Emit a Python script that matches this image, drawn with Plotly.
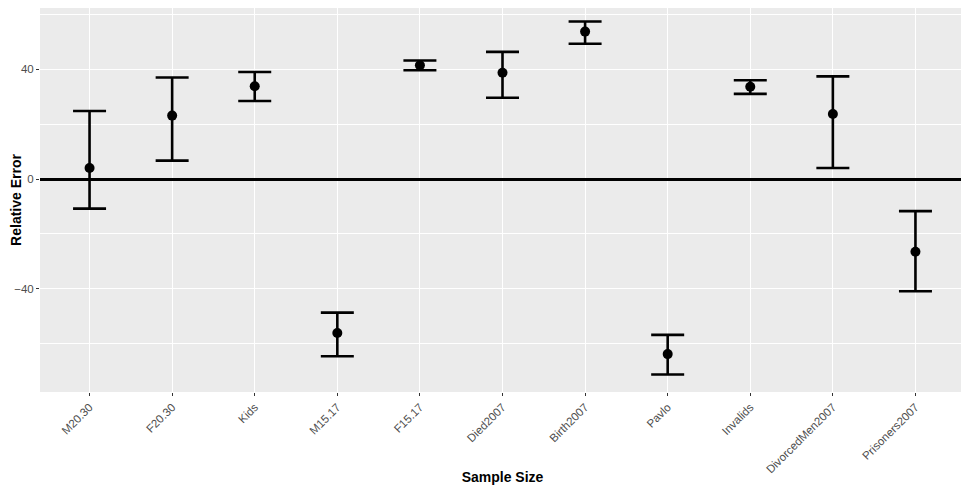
import plotly.graph_objects as go

categories = ["M20.30", "F20.30", "Kids", "M15.17", "F15.17", "Died2007",
              "Birth2007", "Pavlo", "Invalids", "DivorcedMen2007", "Prisoners2007"]
estimate = [4.0, 23.1, 33.8, -56.1, 41.4, 38.7, 53.7, -63.8, 33.6, 23.7, -26.5]
upper = [24.8, 37.0, 39.0, -48.7, 43.2, 46.3, 57.4, -56.8, 36.0, 37.4, -11.7]
lower = [-10.8, 6.7, 28.4, -64.6, 39.6, 29.6, 49.3, -71.2, 31.0, 4.0, -40.9]

err_plus = [u - e for u, e in zip(upper, estimate)]
err_minus = [e - l for e, l in zip(estimate, lower)]

fig = go.Figure()
fig.add_trace(go.Scatter(
    x=categories,
    y=estimate,
    mode='markers',
    marker=dict(color='black', size=10),
    error_y=dict(type='data', symmetric=False, array=err_plus, arrayminus=err_minus,
                 color='black', thickness=2.6, width=16.5),
    showlegend=False
))

# page body adds an 8px offset, so the figure is a bit smaller than the window
fig.update_layout(
    width=961, height=477,
    margin=dict(l=32, r=4, t=0, b=93),
    paper_bgcolor='white',
    plot_bgcolor='#EBEBEB',
    font=dict(family='Liberation Sans, Arial, sans-serif', color='#4D4D4D', size=11),
    xaxis=dict(
        type='category',
        range=[-0.6, 10.6],
        tickangle=-45,
        showgrid=True, gridcolor='white', gridwidth=1.2,
        ticks='outside', ticklen=3, tickcolor='#333333',
        tickfont=dict(size=11.5, color='#4D4D4D'),
        title=dict(text='<b>Sample Size</b>', font=dict(size=14, color='black'), standoff=0),
        automargin=False,
    ),
    yaxis=dict(
        range=[-77.6, 62.3],
        tickvals=[-40, 0, 40],
        ticktext=['\u221240', '0', '40'],
        showgrid=True, gridcolor='white', gridwidth=1.2,
        minor=dict(tickvals=[-60, -20, 20, 60], showgrid=True, gridcolor='white', gridwidth=0.6, ticklen=0),
        zeroline=True, zerolinecolor='black', zerolinewidth=3,
        ticks='outside', ticklen=3, tickcolor='#333333',
        tickfont=dict(size=11.5, color='#4D4D4D'),
        title=dict(text='<b>Relative Error</b>', font=dict(size=14, color='black'), standoff=0),
        automargin=False,
    ),
)

fig.write_html("out.html")
